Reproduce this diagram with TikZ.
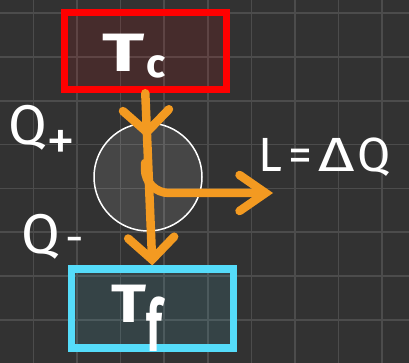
\documentclass[tikz,border=0pt]{standalone}
\usepackage{fontspec}
\setmainfont{Fira Sans}
\usetikzlibrary{arrows.meta,decorations.markings}

\definecolor{boardbg}{HTML}{323232}
\definecolor{gridgray}{HTML}{4C4C4C}
\definecolor{hotred}{HTML}{FF0000}
\definecolor{coldcyan}{HTML}{55DCFA}
\definecolor{heatorange}{HTML}{F39A21}

\tikzset{
  gridline/.style={draw=gridgray, line width=1.5pt},
  reservoir/.style={rectangle, line width=7.5pt, minimum width=162pt, fill opacity=0.1, inner sep=0pt},
  chalk/.style={text=white, inner sep=0pt},
  flow/.style={draw=heatorange, line width=8.5pt, line cap=round, line join=round},
  barb/.tip={Straight Barb[length=22pt, width=46pt, line width=8.5pt, line cap=round]},
  workbarb/.tip={Straight Barb[length=26pt, width=36pt, line width=8.5pt, line cap=round]},
}

\begin{document}
\begin{tikzpicture}[x=1pt, y=-1pt]
  % board
  \fill[boardbg] (0,0) rectangle (409,363);
  \useasboundingbox (0,0) rectangle (409,363);
  \foreach \i in {0,...,8}
    \draw[gridline] ({33.4+43.6*\i},0) -- ++(0,363);
  \foreach \j in {0,...,7}
    \draw[gridline] (0,{13.2+43.8*\j}) -- ++(409,0);

  % reservoirs and engine
  \node[reservoir, draw=hotred, fill=hotred, minimum height=77pt] (hot) at (145.3,51) {};
  \node[reservoir, draw=coldcyan, fill=coldcyan, minimum height=79pt] (cold) at (152.3,308.7) {};
  \node[circle, draw=white, line width=1.5pt, fill=white, fill opacity=0.1, minimum size=108pt, inner sep=0pt] (engine) at (148,177) {};

  \node[chalk, anchor=base west] (hotname) at (102,72)
    {\bfseries\fontsize{54}{54}\selectfont\scalebox{1.45}[1]{T}\hspace{2pt}\raisebox{-6pt}{\fontsize{40}{40}\selectfont c}};
  \node[chalk, anchor=base west] (coldname) at (111,322)
    {\bfseries\fontsize{54}{54}\selectfont\scalebox{1.2}[1]{T}\raisebox{-29pt}{\fontsize{40}{40}\selectfont\scalebox{1.1}[1.8]{f}}};

  % heat flow
  \draw[flow, -{barb},
        postaction={decorate},
        decoration={markings, mark=at position 0.26 with {\arrow[heatorange]{barb}}}]
    (hot.south) -- (cold.north);
  \coordinate (work) at (273,193);
  \draw[flow, -{workbarb}, rounded corners=24pt]
    ([shift={(-3,-14)}]engine.center) |- (work);

  % labels
  \node[chalk, anchor=base west] (qin) at (8,145)
    {\fontsize{56}{56}\selectfont Q\raisebox{-16pt}{\fontsize{58}{58}\selectfont +}};
  \node[chalk, anchor=base west] (qout) at (21,253)
    {\fontsize{56}{56}\selectfont Q\hspace{6pt}\fontsize{46}{46}\selectfont -};
  \node[chalk, anchor=base west] (worklbl) at (258,172)
    {\fontsize{48}{48}\selectfont L\hspace{6pt}=\hspace{6pt}\scalebox{1.3}[1]{Δ}\hspace{3pt}Q};
\end{tikzpicture}
\end{document}
